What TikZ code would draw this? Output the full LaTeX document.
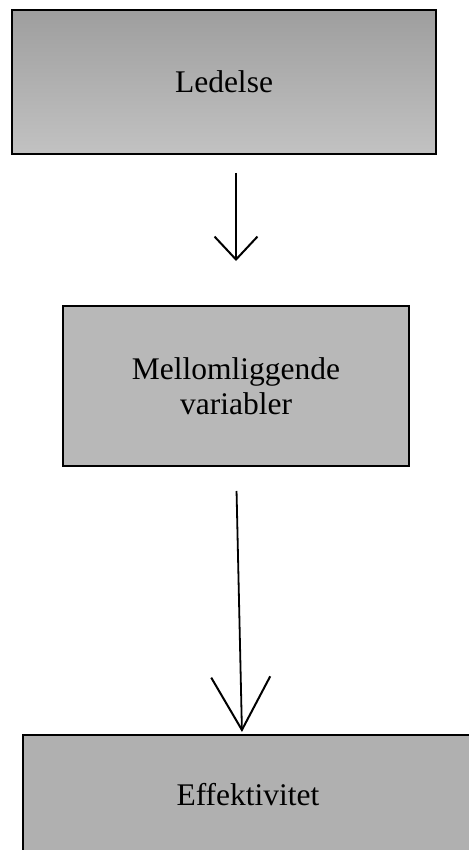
\documentclass[tikz,border=0pt]{standalone}
\usepackage{fontspec}
\setmainfont{Liberation Serif}
\usetikzlibrary{positioning, arrows.meta}

\begin{document}
\begin{tikzpicture}[
    x=1pt, y=-1pt,
    font=\fontsize{31.5}{35}\selectfont,
    % Styles
    graybox/.style={rectangle, draw=black, line width=2pt, align=center, inner sep=0pt},
    topbox/.style={graybox, top color=black!38, bottom color=black!24, minimum width=424pt, minimum height=144pt},
    midbox/.style={graybox, fill=black!28, minimum width=346pt, minimum height=160pt},
    bottombox/.style={graybox, fill=black!31, minimum width=450pt, minimum height=120pt},
    shortarrow/.style={-{Straight Barb[length=23pt, width=43pt, line width=2pt]}, line width=2pt},
    longarrow/.style={-{Straight Barb[length=53pt, width=59pt, line width=2pt]}, line width=1.8pt}
]
\useasboundingbox (0,0) rectangle (468,850);

% ==================== BOXES ====================
\node[topbox] (ledelse) at (224, 82) {Ledelse};
\node[midbox] (mellom) at (236, 386) {Mellomliggende\\variabler};
\node[bottombox] (effekt) at (248, 795) {Effektivitet};

% ==================== ARROWS ====================
\draw[shortarrow, shorten <=18pt, shorten >=44pt] (ledelse.south -| mellom.north) -- (mellom.north);
\draw[longarrow, shorten <=24pt, shorten >=2pt] (mellom.south) -- ([xshift=-6pt]effekt.north);

\end{tikzpicture}
\end{document}
